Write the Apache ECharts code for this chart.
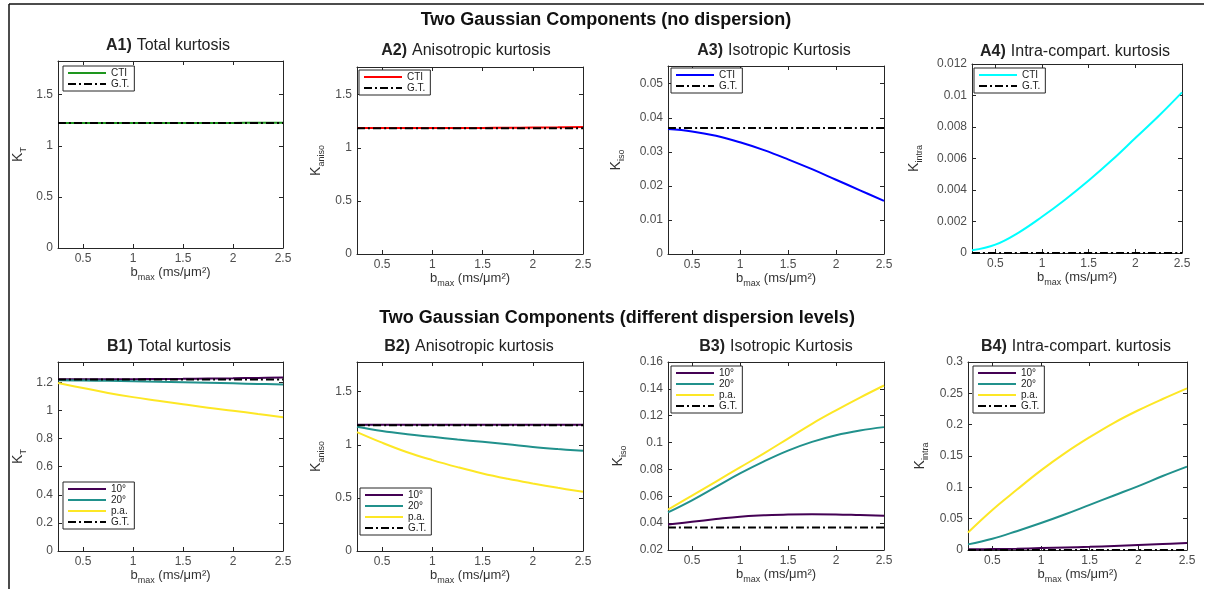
<!DOCTYPE html>
<html>
<head>
<meta charset="utf-8">
<script src="https://cdn.jsdelivr.net/npm/echarts@6/dist/echarts.min.js"></script>
<style>
  html, body { margin: 0; padding: 0; background: #fff; overflow: hidden; }
  #chart { width: 1205px; height: 589px; }
</style>
</head>
<body>
<div id="chart"></div>
<script>
// b-values (ms/um^2) the curves were sampled at
const bmax = [0.25, 0.5, 0.75, 1, 1.25, 1.5, 1.75, 2, 2.25, 2.5];

// row A: no dispersion
const a1Cti = [1.224, 1.224, 1.224, 1.224, 1.224, 1.224, 1.224, 1.224, 1.225, 1.225];
const a1Gt  = [1.224, 1.224, 1.224, 1.224, 1.224, 1.224, 1.224, 1.224, 1.224, 1.224];
const a2Cti = [1.185, 1.185, 1.185, 1.185, 1.186, 1.187, 1.188, 1.190, 1.192, 1.195];
const a2Gt  = [1.184, 1.184, 1.184, 1.184, 1.184, 1.184, 1.184, 1.184, 1.184, 1.184];
const a3Cti = [0.0367, 0.0360, 0.0347, 0.0328, 0.0305, 0.0278, 0.0249, 0.0218, 0.0187, 0.0156];
const a3Gt  = [0.0370, 0.0370, 0.0370, 0.0370, 0.0370, 0.0370, 0.0370, 0.0370, 0.0370, 0.0370];
const a4Cti = [0.00017, 0.00053, 0.0013, 0.0023, 0.0034, 0.0046, 0.0059, 0.0073, 0.0087, 0.0102];
const a4Gt  = [0, 0, 0, 0, 0, 0, 0, 0, 0, 0];

// row B: different dispersion levels
const b1Deg10 = [1.222, 1.222, 1.222, 1.223, 1.224, 1.225, 1.227, 1.229, 1.232, 1.235];
const b1Deg20 = [1.215, 1.213, 1.211, 1.208, 1.205, 1.201, 1.197, 1.193, 1.189, 1.185];
const b1Pa    = [1.195, 1.160, 1.125, 1.095, 1.070, 1.045, 1.020, 0.998, 0.975, 0.952];
const b1Gt    = [1.220, 1.220, 1.220, 1.220, 1.220, 1.220, 1.220, 1.220, 1.220, 1.220];
const b2Deg10 = [1.188, 1.188, 1.188, 1.188, 1.188, 1.188, 1.188, 1.188, 1.188, 1.188];
const b2Deg20 = [1.170, 1.130, 1.100, 1.075, 1.050, 1.028, 1.005, 0.980, 0.960, 0.943];
const b2Pa    = [1.120, 1.020, 0.930, 0.856, 0.790, 0.730, 0.680, 0.636, 0.595, 0.557];
const b2Gt    = [1.185, 1.185, 1.185, 1.185, 1.185, 1.185, 1.185, 1.185, 1.185, 1.185];
const b3Deg10 = [0.0390, 0.0410, 0.0430, 0.0448, 0.0458, 0.0465, 0.0467, 0.0465, 0.0460, 0.0455];
const b3Deg20 = [0.0480, 0.0570, 0.0670, 0.0770, 0.0860, 0.0940, 0.1005, 0.1055, 0.1090, 0.1115];
const b3Pa    = [0.0500, 0.0605, 0.0710, 0.0815, 0.0920, 0.1030, 0.1140, 0.1240, 0.1335, 0.1425];
const b3Gt    = [0.0367, 0.0367, 0.0367, 0.0367, 0.0367, 0.0367, 0.0367, 0.0367, 0.0367, 0.0367];
const b4Deg10 = [0.0010, 0.0015, 0.0020, 0.0030, 0.0040, 0.0050, 0.0065, 0.0080, 0.0095, 0.0110];
const b4Deg20 = [0.009, 0.018, 0.030, 0.043, 0.057, 0.072, 0.087, 0.102, 0.118, 0.133];
const b4Pa    = [0.028, 0.064, 0.096, 0.127, 0.155, 0.180, 0.203, 0.223, 0.241, 0.258];
const b4Gt    = [0, 0, 0, 0, 0, 0, 0, 0, 0, 0];

// tick labels
const xTicks = [0.5, 1, 1.5, 2, 2.5];
const yTicksK = [0, 0.5, 1, 1.5];
const yTicksA3 = [0, 0.01, 0.02, 0.03, 0.04, 0.05];
const yTicksA4 = [0, 0.002, 0.004, 0.006, 0.008, 0.01, 0.012];
const yTicksB1 = [0, 0.2, 0.4, 0.6, 0.8, 1, 1.2];
const yTicksB3 = [0.02, 0.04, 0.06, 0.08, 0.1, 0.12, 0.14, 0.16];
const yTicksB4 = [0, 0.05, 0.1, 0.15, 0.2, 0.25, 0.3];

const FONT = 'Liberation Sans, Arial, sans-serif';
const AXC = '#262626';
const GT_DASH = [8, 3, 2, 3];
const C = { green: '#1e961e', red: '#ff0000', blue: '#0000ff', cyan: '#00ffff',
            d10: '#440154', d20: '#21918c', pa: '#fde725', gt: '#000000' };

const panels = [
  { id: 'A1', title: 'Total kurtosis', box: [58, 61, 225, 187], ymin: 0, ymax: 1.83, yt: yTicksK,
    yname: ['K', 'T'], ygap: 30, leg: [63, 66], titleXY: [168, 47],
    lines: [['CTI', a1Cti, C.green], ['G.T.', a1Gt, C.gt]] },
  { id: 'A2', title: 'Anisotropic kurtosis', box: [357, 67, 226, 187], ymin: 0, ymax: 1.76, yt: yTicksK,
    yname: ['K', 'aniso'], ygap: 31, leg: [359, 70], titleXY: [466, 52],
    lines: [['CTI', a2Cti, C.red], ['G.T.', a2Gt, C.gt]] },
  { id: 'A3', title: 'Isotropic Kurtosis', box: [668, 66, 216, 188], ymin: 0, ymax: 0.0552, yt: yTicksA3,
    yname: ['K', 'iso'], ygap: 42, leg: [671, 68], titleXY: [774, 52],
    lines: [['CTI', a3Cti, C.blue], ['G.T.', a3Gt, C.gt]] },
  { id: 'A4', title: 'Intra-compart. kurtosis', box: [972, 64, 210, 189], ymin: 0, ymax: 0.012, yt: yTicksA4,
    yname: ['K', 'intra'], ygap: 48, leg: [974, 68], titleXY: [1075, 53],
    lines: [['CTI', a4Cti, C.cyan], ['G.T.', a4Gt, C.gt]] },
  { id: 'B1', title: 'Total kurtosis', box: [58, 362, 225, 189], ymin: 0, ymax: 1.345, yt: yTicksB1,
    yname: ['K', 'T'], ygap: 30, leg: [63, 482], titleXY: [169, 348],
    lines: [['10°', b1Deg10, C.d10], ['20°', b1Deg20, C.d20], ['p.a.', b1Pa, C.pa], ['G.T.', b1Gt, C.gt]] },
  { id: 'B2', title: 'Anisotropic kurtosis', box: [357, 362, 226, 189], ymin: 0, ymax: 1.78, yt: yTicksK,
    yname: ['K', 'aniso'], ygap: 31, leg: [360, 488], titleXY: [469, 348],
    lines: [['10°', b2Deg10, C.d10], ['20°', b2Deg20, C.d20], ['p.a.', b2Pa, C.pa], ['G.T.', b2Gt, C.gt]] },
  { id: 'B3', title: 'Isotropic Kurtosis', box: [668, 362, 216, 188], ymin: 0.02, ymax: 0.16, yt: yTicksB3,
    yname: ['K', 'iso'], ygap: 40, leg: [671, 366], titleXY: [776, 348],
    lines: [['10°', b3Deg10, C.d10], ['20°', b3Deg20, C.d20], ['p.a.', b3Pa, C.pa], ['G.T.', b3Gt, C.gt]] },
  { id: 'B4', title: 'Intra-compart. kurtosis', box: [968, 362, 219, 188], ymin: 0, ymax: 0.3, yt: yTicksB4,
    yname: ['K', 'intra'], ygap: 38, leg: [973, 366], titleXY: [1076, 348],
    lines: [['10°', b4Deg10, C.d10], ['20°', b4Deg20, C.d20], ['p.a.', b4Pa, C.pa], ['G.T.', b4Gt, C.gt]] }
];

const grid = [], xAxis = [], yAxis = [], series = [], legend = [], title = [];

const tickStyle = vals => ({ show: true, inside: true, length: 4, customValues: vals,
  lineStyle: { color: AXC, width: 1 } });
const lineAx = { show: true, onZero: false, lineStyle: { color: AXC, width: 1 } };
const labelStyle = { color: '#4d4d4d', fontSize: 12, fontFamily: FONT };

panels.forEach((p, i) => {
  const [l, t, w, h] = p.box;
  grid.push({ left: l, top: t, width: w, height: h, show: true, backgroundColor: '#fff', borderWidth: 0 });

  // bottom axis with labels, top axis with ticks only
  xAxis.push({
    type: 'value', gridIndex: i, min: 0.25, max: 2.5, position: 'bottom',
    axisLine: lineAx, axisTick: tickStyle(xTicks), splitLine: { show: false },
    axisLabel: Object.assign({ margin: 5, customValues: xTicks }, labelStyle),
    name: '{b|b}{s|max}{b| (ms/μm²)}', nameLocation: 'middle', nameGap: 14,
    nameTextStyle: { fontFamily: FONT, color: '#333',
      rich: { b: { fontSize: 13, fontFamily: FONT, color: '#333', lineHeight: 20 },
              s: { fontSize: 9, fontFamily: FONT, color: '#333', lineHeight: 9, verticalAlign: 'bottom' } } }
  });
  xAxis.push({
    type: 'value', gridIndex: i, min: 0.25, max: 2.5, position: 'top',
    axisLine: lineAx, axisTick: tickStyle(xTicks), axisLabel: { show: false }, splitLine: { show: false }
  });

  yAxis.push({
    type: 'value', gridIndex: i, min: p.ymin, max: p.ymax, position: 'left',
    axisLine: lineAx, axisTick: tickStyle(p.yt), splitLine: { show: false },
    axisLabel: Object.assign({ margin: 5, customValues: p.yt }, labelStyle),
    name: '{k|' + p.yname[0] + '}{s|' + p.yname[1] + '}', nameLocation: 'middle', nameRotate: 90, nameGap: p.ygap,
    nameTextStyle: { fontFamily: FONT, color: '#333',
      rich: { k: { fontSize: 14, fontFamily: FONT, color: '#333', lineHeight: 20 },
              s: { fontSize: 9, fontFamily: FONT, color: '#333', lineHeight: 9, verticalAlign: 'bottom' } } }
  });
  yAxis.push({
    type: 'value', gridIndex: i, min: p.ymin, max: p.ymax, position: 'right',
    axisLine: lineAx, axisTick: tickStyle(p.yt), axisLabel: { show: false }, splitLine: { show: false }
  });

  const names = [];
  p.lines.forEach(([name, vals, color]) => {
    const full = p.id + '|' + name;
    names.push(full);
    const isGt = name === 'G.T.';
    series.push({
      type: 'line', name: full, xAxisIndex: 2 * i, yAxisIndex: 2 * i,
      data: bmax.map((b, k) => [b, vals[k]]),
      symbol: 'none', smooth: 0.4, clip: true,
      lineStyle: { color: color, width: 2, type: isGt ? GT_DASH : 'solid' },
      itemStyle: { color: color }
    });
  });

  legend.push({
    data: names, orient: 'vertical', left: p.leg[0], top: p.leg[1],
    selectedMode: false, backgroundColor: '#fff', borderColor: AXC, borderWidth: 1, borderRadius: 0,
    padding: [2, 5, 2, 4], itemGap: 1, itemWidth: 38, itemHeight: 10, itemTextGap: 3,
    itemStyle: { opacity: 0, borderWidth: 0 },
    lineStyle: { width: 2 },
    formatter: n => n.split('|')[1],
    textStyle: { fontSize: 10, color: '#222', fontFamily: FONT }
  });

  title.push({
    text: '{b|' + p.id + ')} {n|' + p.title + '}',
    left: p.titleXY[0], top: p.titleXY[1] - 10, textAlign: 'center', padding: 0,
    textStyle: { fontWeight: 'normal', rich: {
      b: { fontSize: 16, fontWeight: 'bold', fontFamily: FONT, color: '#222' },
      n: { fontSize: 16, fontWeight: 'normal', fontFamily: FONT, color: '#222' } } }
  });
});

title.push({
  text: 'Two Gaussian Components (no dispersion)', left: 606, top: 11, textAlign: 'center', padding: 0,
  textStyle: { fontSize: 18, fontWeight: 'bold', fontFamily: FONT, color: '#111' }
});
title.push({
  text: 'Two Gaussian Components (different dispersion levels)', left: 617, top: 309, textAlign: 'center', padding: 0,
  textStyle: { fontSize: 18, fontWeight: 'bold', fontFamily: FONT, color: '#111' }
});

const chart = echarts.init(document.getElementById('chart'));
chart.setOption({
  backgroundColor: '#fff',
  animation: false,
  title: title,
  grid: grid,
  xAxis: xAxis,
  yAxis: yAxis,
  legend: legend,
  series: series,
  graphic: [
    { type: 'line', shape: { x1: 9, y1: 4, x2: 1204, y2: 4 }, style: { stroke: '#111', lineWidth: 1.5 } },
    { type: 'line', shape: { x1: 9, y1: 4, x2: 9, y2: 589 }, style: { stroke: '#111', lineWidth: 1.5 } }
  ]
});
</script>
</body>
</html>
